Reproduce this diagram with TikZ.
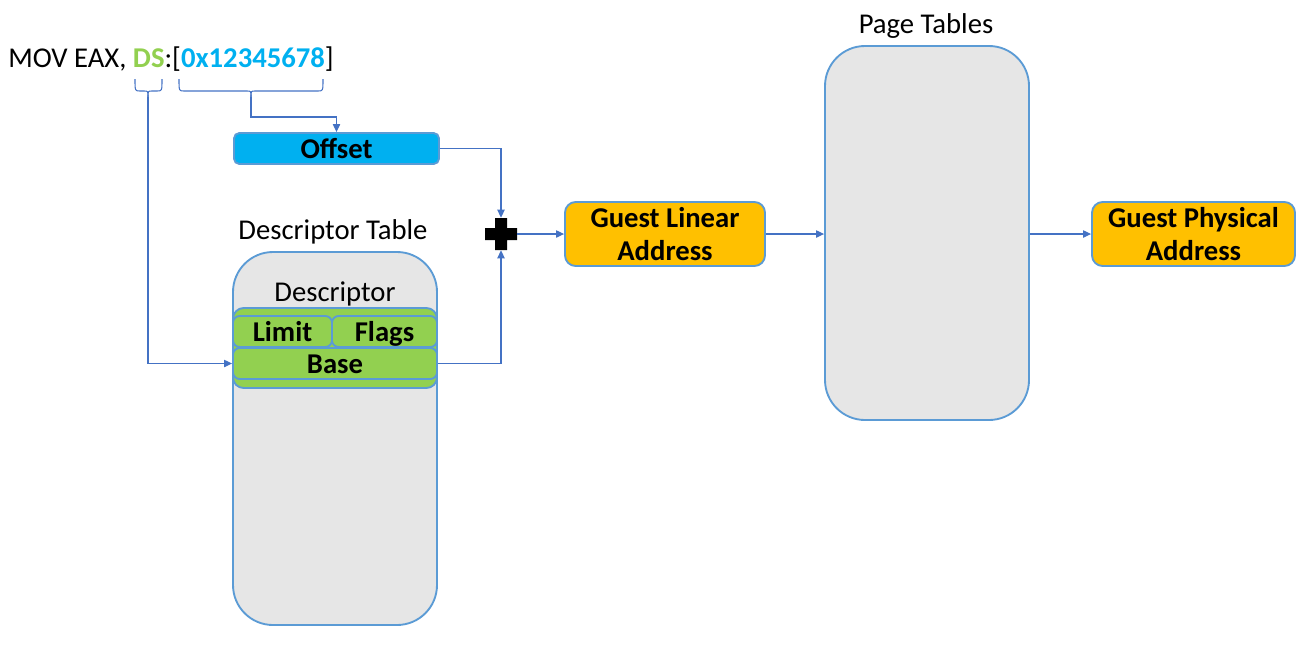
\documentclass[tikz,border=0pt]{standalone}
\usepackage{fontspec}
\setmainfont{Carlito}
\usetikzlibrary{arrows.meta}
\definecolor{bord}{RGB}{91,155,213}
\definecolor{conn}{RGB}{68,114,196}
\definecolor{cyanf}{RGB}{0,176,240}
\definecolor{greenf}{RGB}{146,208,80}
\definecolor{orangef}{RGB}{255,192,0}
\definecolor{grayf}{RGB}{230,230,230}
\tikzset{
  box/.style={draw=bord, line width=1.4pt, inner sep=0pt, align=center,
    font=\bfseries\fontsize{21.5}{25}\selectfont},
  one/.style={text height=19pt, text depth=4pt},
  tall/.style={draw=bord, line width=1.4pt, fill=grayf, rounded corners=30pt, inner sep=0pt},
  lbl/.style={font=\fontsize{21.5}{25}\selectfont, inner sep=0pt},
  arr/.style={draw=conn, line width=0.8pt, -{Triangle[length=6pt,width=5.5pt]}},
  ln/.style={draw=conn, line width=0.8pt},
}
\begin{document}
\begin{tikzpicture}[x=0.75pt,y=-0.75pt]
\useasboundingbox (0,0) rectangle (1313,644);
% instruction
\node[lbl, anchor=base west] (mov) at (8,67) {MOV EAX, \textcolor{greenf}{\textbf{DS}}:[\textcolor{cyanf}{\textbf{0x12345678}}]};
% braces
\coordinate (dsb) at (148,97);
\coordinate (offb) at (251,97);
\draw[ln] (135,79) .. controls (135,91) .. (140,91) -- (144,91) .. controls (148,91) .. (dsb);
\draw[ln] (162,79) .. controls (162,91) .. (157,91) -- (152,91) .. controls (148,91) .. (dsb);
\draw[ln] (179,79) .. controls (179,91) .. (184,91) -- (247,91) .. controls (251,91) .. (offb);
\draw[ln] (323,79) .. controls (323,91) .. (318,91) -- (255,91) .. controls (251,91) .. (offb);
% offset
\node[box, one, fill=cyanf, rounded corners=4pt, minimum width=153.75pt, minimum height=23.25pt] (offset) at (336.5,148.5) {Offset};
% descriptor table
\node[lbl] (dtl) at (333,232) {Descriptor Table};
\node[tall, minimum width=153pt, minimum height=279.75pt] (dt) at (335,438.5) {};
\node[box, fill=greenf, rounded corners=8pt, minimum width=153pt, minimum height=60pt] (desc) at (335,348) {};
\node[lbl] (descl) at (335,294) {Descriptor};
\node[box, one, fill=greenf, rounded corners=5pt, minimum width=74.25pt, minimum height=23.25pt] (limit) at (282.5,331.5) {Limit};
\node[box, one, fill=greenf, rounded corners=5pt, minimum width=78.75pt, minimum height=23.25pt] (flags) at (384.5,331.5) {Flags};
\node[box, one, fill=greenf, rounded corners=5pt, minimum width=153pt, minimum height=23.25pt] (base) at (335,363.5) {Base};
% plus
\node[minimum width=24pt, minimum height=24pt, inner sep=0pt] (plus) at (501,234) {};
\fill[black] (495,218) -- (507,218) -- (507,228) -- (517,228) -- (517,240) -- (507,240) -- (507,250) -- (495,250) -- (495,240) -- (485,240) -- (485,228) -- (495,228) -- cycle;
% addresses
\node[box, fill=orangef, rounded corners=8pt, minimum width=150pt, minimum height=48pt] (gla) at (665,234) {Guest Linear\\Address};
\node[lbl] (ptl) at (926,26) {Page Tables};
\node[tall, minimum width=153pt, minimum height=280.5pt] (pt) at (927,233) {};
\node[box, fill=orangef, rounded corners=8pt, minimum width=152.25pt, minimum height=48pt] (gpa) at (1193.5,234) {Guest Physical\\Address};
% connectors
\draw[arr] (dsb) |- (base.west);
\draw[arr] (offb) -- (offb |- 0,117) -| (offset.north);
\draw[arr] (offset.east) -| (plus.north);
\draw[arr] (base.east) -| (plus.south);
\draw[arr] (plus.east) -- (gla.west);
\draw[arr] (gla.east) -- (gla.east -| pt.west);
\draw[arr] (pt.east |- gpa.west) -- (gpa.west);
\end{tikzpicture}
\end{document}
